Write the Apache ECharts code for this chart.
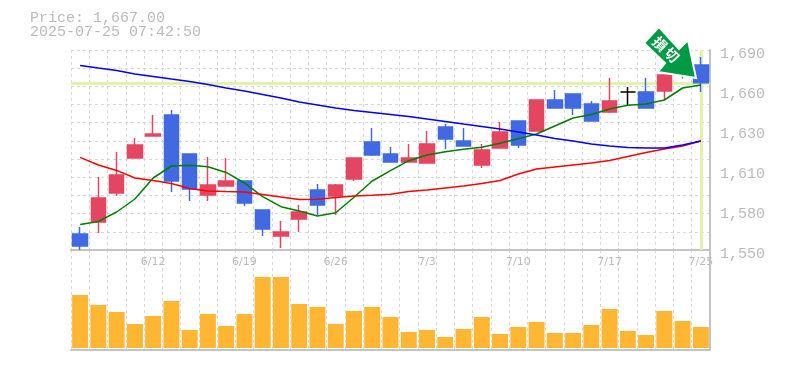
<!DOCTYPE html>
<html>
<head>
<meta charset="utf-8">
<style>html,body{margin:0;padding:0;background:#fff}#chart{width:785px;height:370px}</style>
<script src="https://cdn.jsdelivr.net/npm/echarts@6/dist/echarts.min.js"></script>
</head>
<body>
<div id="chart"></div>
<script>
const dates = ["6/6","6/9","6/10","6/11","6/12","6/13","6/16","6/17","6/18","6/19","6/20","6/23","6/24","6/25","6/26","6/27","6/30","7/1","7/2","7/3","7/4","7/7","7/8","7/9","7/10","7/11","7/14","7/15","7/16","7/17","7/18","7/22","7/23","7/24","7/25"];
const dateLabels = ["6/12","6/19","6/26","7/3","7/10","7/17","7/25"];

// open, close, low, high  (red = up, blue = down)
const candles = [
  [1561.2,1552.8,1550.0,1566.1],[1569.6,1586.4,1561.9,1601.1],[1589.9,1602.5,1587.8,1618.6],[1614.4,1623.5,1614.4,1628.4],
  [1629.8,1631.2,1629.8,1644.5],[1644.5,1598.3,1590.6,1648.0],[1617.2,1592.7,1584.3,1617.2],[1588.5,1595.5,1584.3,1615.1],
  [1594.8,1598.3,1594.8,1614.4],[1598.3,1582.9,1580.8,1598.3],[1578.0,1564.7,1559.8,1578.0],[1559.8,1562.6,1551.4,1570.3],
  [1571.7,1576.6,1562.6,1581.5],[1592.0,1581.5,1574.5,1596.2],[1587.8,1595.5,1574.5,1596.2],[1599.7,1614.4,1598.3,1614.4],
  [1625.6,1616.5,1615.8,1635.4],[1617.2,1611.6,1611.6,1622.1],[1611.6,1614.4,1611.6,1624.2],[1610.9,1624.2,1610.9,1633.3],
  [1636.1,1627.7,1620.7,1638.2],[1626.3,1622.8,1622.8,1635.4],[1609.5,1620.0,1607.4,1624.2],[1621.4,1632.6,1621.4,1639.6],
  [1640.3,1623.5,1621.4,1640.3],[1633.3,1655.0,1633.3,1655.0],[1655.0,1649.4,1649.4,1662.0],[1659.2,1649.4,1644.5,1659.2],
  [1652.2,1640.3,1640.3,1654.3],[1646.6,1654.3,1645.9,1670.4],[1660.6,1660.6,1651.5,1664.1],[1660.6,1649.4,1649.4,1670.4],
  [1661.3,1672.5,1655.0,1672.5],[1683.0,1674.6,1670.0,1688.6],[1679.5,1667.0,1660.6,1685.1]
];
const maShort = [1567.9,1570.0,1576.6,1585.7,1600.4,1608.8,1609.3,1608.3,1604.3,1596.9,1587.3,1580.3,1577.3,1573.8,1576.1,1586.9,1598.3,1605.5,1612.5,1616.5,1618.8,1620.5,1621.9,1624.7,1627.9,1631.2,1636.8,1642.4,1644.9,1648.7,1651.3,1652.2,1655.0,1663.4,1665.5];
const maMid = [1614.8,1609.5,1605.7,1600.4,1598.7,1596.6,1593.1,1591.3,1590.9,1590.6,1588.9,1587.1,1585.4,1585.5,1586.8,1587.8,1588.3,1589.0,1591.0,1592.0,1593.4,1594.8,1596.6,1598.7,1603.2,1606.7,1608.1,1609.5,1610.9,1612.7,1615.5,1618.3,1620.7,1622.8,1626.3];
const maLong = [1679.2,1677.4,1675.7,1673.2,1671.5,1669.7,1668.0,1665.9,1663.4,1661.3,1658.9,1656.4,1653.6,1651.5,1649.4,1647.7,1646.3,1644.9,1643.5,1641.7,1640.0,1638.2,1636.5,1634.7,1632.6,1630.5,1628.0,1626.3,1624.2,1622.8,1621.8,1621.4,1621.4,1623.5,1626.3];
const volumes = [53,43,36,24,32,47,18,34,22,34,71,71,44,41,24,37,41,31,16,18,11,19,31,14,21,26,15,15,23,39,17,13,37,27,21];

const priceTicks = [1550,1578,1606,1634,1662,1690];
const lastPrice = 1667;
const stamp = "2025-07-25 07:42:50";
const arrowText = ["損","切"];

const gray = "#bbbbbb";
const axisGray = "#c4c4c4";
const gridGray = "#d8d8d8";
const hilite = "#e2f3a9";
const mono = "'Liberation Mono', monospace";

const chart = echarts.init(document.getElementById("chart"), null, { renderer: "canvas" });

const lineSeries = (name, data, color) => ({
  name, type: "line", data, xAxisIndex: 0, yAxisIndex: 0,
  symbol: "none", z: 3, silent: true,
  lineStyle: { color, width: 1.5 },
});

chart.setOption({
  animation: false,
  backgroundColor: "#fff",
  textStyle: { fontFamily: mono },
  title: {
    text: "Price: 1,667.00\n" + stamp,
    left: 30, top: 11, padding: 0,
    textStyle: { fontFamily: mono, fontSize: 15, fontWeight: "normal", color: gray, lineHeight: 14 },
  },
  grid: [
    { left: 71, right: 75, top: 50, height: 200 },
    { left: 71, right: 75, top: 250, height: 100 },
  ],
  xAxis: [
    {
      type: "category", gridIndex: 0, data: dates,
      axisLine: { onZero: false, lineStyle: { color: axisGray, width: 2 } },
      axisTick: { show: false }, axisLabel: { show: false },
      splitLine: { show: true, interval: 0, lineStyle: { color: gridGray, type: [3, 3], width: 1 } },
    },
    {
      type: "category", gridIndex: 1, data: dates,
      axisLine: { onZero: false, lineStyle: { color: axisGray, width: 2 } },
      axisTick: { show: false },
      position: "top",
      axisLabel: {
        show: true, interval: 0, inside: true, margin: 7,
        fontFamily: "'DejaVu Sans', sans-serif", fontSize: 11, color: gray,
        formatter: (v) => (dateLabels.includes(v) ? v : ""),
      },
      splitLine: { show: true, interval: 0, lineStyle: { color: gridGray, type: [3, 3], width: 1 } },
    },
    {
      type: "category", gridIndex: 1, data: dates, position: "bottom",
      axisLine: { onZero: false, lineStyle: { color: axisGray, width: 2 } },
      axisTick: { show: false }, axisLabel: { show: false },
    },
  ],
  yAxis: [
    {
      type: "value", gridIndex: 0, position: "right", min: 1550, max: 1690, scale: true,
      axisLine: { show: true, lineStyle: { color: axisGray, width: 2 } },
      axisTick: { show: false },
      splitLine: { show: false },
      axisLabel: {
        customValues: priceTicks, margin: 10, color: gray, fontFamily: mono, fontSize: 15,
        verticalAlign: "top", lineHeight: 9,
        formatter: (v) => (Math.round(v / 10) * 10).toLocaleString("en-US"),
      },
    },
    {
      // dashed horizontal grid only, 11 divisions of the price pane
      type: "value", gridIndex: 0, position: "left", min: 0, max: 11, interval: 1,
      axisLine: { show: false }, axisTick: { show: false }, axisLabel: { show: false },
      splitLine: { show: true, lineStyle: { color: gridGray, type: [3, 3], width: 1 } },
    },
    {
      type: "value", gridIndex: 1, position: "right", min: -2, max: 98,
      axisLine: { show: true, lineStyle: { color: axisGray, width: 2 } },
      axisTick: { show: false }, axisLabel: { show: false }, splitLine: { show: false },
    },
  ],
  series: [
    {
      type: "candlestick", name: "Price", data: candles, xAxisIndex: 0, yAxisIndex: 0,
      barWidth: 15, z: 2, silent: true,
      itemStyle: {
        color: "#e44662", color0: "#4169e1",
        borderColor: "#e44662", borderColor0: "#4169e1", borderColorDoji: "#000000", borderWidth: 1.5,
      },
      markLine: {
        silent: true, symbol: "none", z: 1, animation: false,
        label: { show: false },
        lineStyle: { color: hilite, width: 3, type: "solid" },
        data: [{ yAxis: lastPrice }, { xAxis: dates[dates.length - 1] }],
      },
    },
    lineSeries("MA short", maShort, "#007f00"),
    lineSeries("MA mid", maMid, "#ff0000"),
    lineSeries("MA long", maLong, "#0000ff"),
    {
      type: "bar", name: "Volume", data: volumes, xAxisIndex: 1, yAxisIndex: 2,
      barWidth: 16, silent: true, itemStyle: { color: "#ffb733" },
    },
  ],
  graphic: [
    {
      type: "polygon", z: 100,
      shape: { points: [[659, 27], [679, 49], [688, 40], [696, 78], [658, 72], [665, 63], [644, 43]] },
      style: { fill: "#009944", stroke: "#fff", lineWidth: 2, lineJoin: "miter" },
    },
    {
      type: "text", z: 101, x: 660, y: 44, rotation: -Math.PI / 4,
      style: { text: arrowText[0], fill: "#fff", fontSize: 14, fontWeight: "bold", fontFamily: "'Noto Sans CJK JP'", align: "center", verticalAlign: "middle" },
    },
    {
      type: "text", z: 101, x: 672, y: 55, rotation: -Math.PI / 4,
      style: { text: arrowText[1], fill: "#fff", fontSize: 14, fontWeight: "bold", fontFamily: "'Noto Sans CJK JP'", align: "center", verticalAlign: "middle" },
    },
  ],
});
</script>
</body>
</html>
